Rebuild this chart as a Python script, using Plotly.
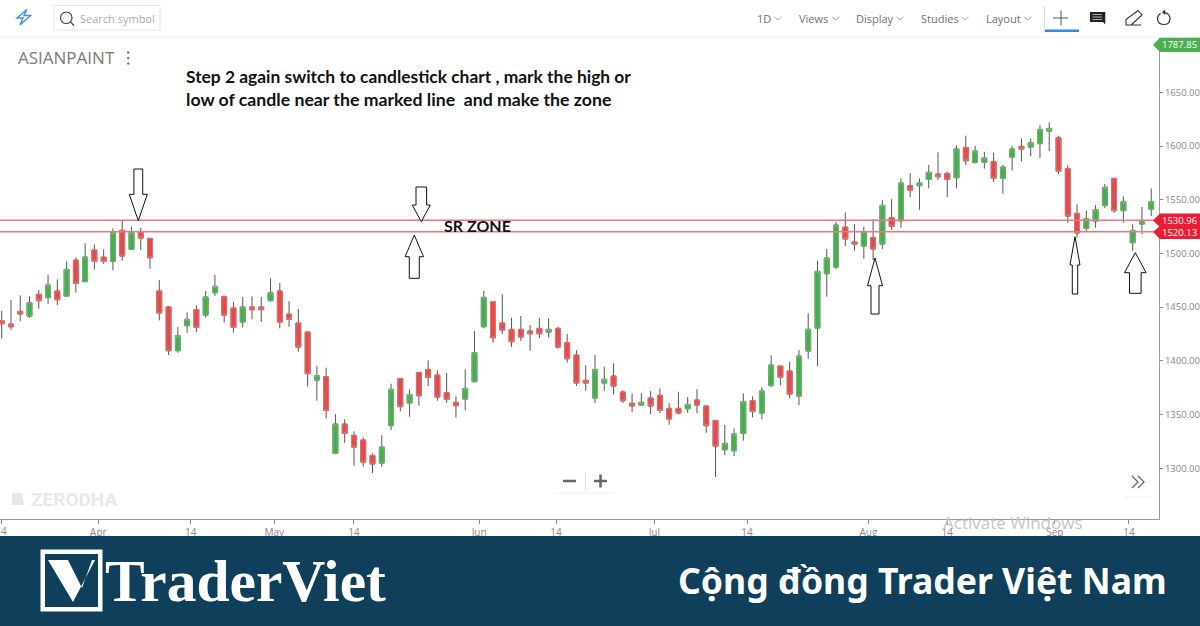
import plotly.graph_objects as go

symbol = "ASIANPAINT"
notes = ["Step 2 again switch to candlestick chart , mark the high or",
         "low of candle near the marked line  and make the zone"]
menu_items = ["1D", "Views", "Display", "Studies", "Layout"]
zone_levels = [1530.96, 1520.13]
last_price = "1787.85"

# daily candles
open_ = [1437.3, 1434.2, 1446.0, 1441.7, 1461.9, 1458.8, 1465.0, 1460.3, 1493.8, 1473.7,
         1503.1, 1496.6, 1492.6, 1521.5, 1503.8, 1519.9, 1514.0, 1465.0, 1450.1, 1409.4,
         1432.7, 1447.6, 1442.6, 1463.4, 1460.0, 1449.1, 1436.1, 1450.1, 1450.1, 1456.0,
         1465.0, 1443.5, 1435.2, 1426.8, 1382.1, 1385.2, 1313.8, 1341.1, 1330.6, 1326.2,
         1311.9, 1304.8, 1339.6, 1383.6, 1360.7, 1389.2, 1392.0, 1386.7, 1370.3, 1361.3,
         1364.4, 1380.5, 1431.7, 1455.0, 1435.2, 1429.3, 1429.3, 1427.7, 1430.2, 1426.8,
         1430.2, 1416.8, 1405.4, 1381.8, 1365.3, 1379.3, 1385.8, 1370.9, 1360.4, 1358.8,
         1365.3, 1367.8, 1355.7, 1355.7, 1355.4, 1363.5, 1357.9, 1344.5, 1317.2, 1316.3,
         1332.4, 1362.8, 1351.4, 1377.1, 1395.1, 1390.5, 1367.2, 1409.1, 1430.5, 1481.1,
         1487.3, 1524.5, 1510.6, 1506.9, 1514.9, 1508.7, 1533.2, 1530.4, 1563.0, 1563.0,
         1568.9, 1573.9, 1574.5, 1570.5, 1598.7, 1584.8, 1584.8, 1585.4, 1569.9, 1589.7,
         1599.7, 1599.0, 1602.2, 1613.9, 1607.7, 1578.9, 1537.3, 1523.3, 1530.1, 1544.7,
         1569.9, 1539.8, 1510.0, 1527.3, 1541.3]
high = [1446.6, 1456.6, 1460.9, 1460.0, 1465.9, 1479.9, 1475.8, 1492.6, 1496.3, 1509.3,
        1508.4, 1503.8, 1523.3, 1530.5, 1524.9, 1523.9, 1514.0, 1475.2, 1451.0, 1431.7,
        1445.1, 1451.6, 1465.0, 1479.9, 1460.3, 1455.0, 1459.4, 1460.0, 1459.4, 1476.8,
        1472.4, 1455.6, 1448.2, 1426.8, 1395.1, 1393.6, 1350.4, 1345.5, 1334.3, 1328.7,
        1313.8, 1330.6, 1378.7, 1383.6, 1373.4, 1389.2, 1400.4, 1391.1, 1388.6, 1366.9,
        1392.0, 1427.7, 1465.0, 1455.0, 1461.9, 1440.1, 1441.7, 1433.3, 1440.1, 1439.5,
        1431.7, 1424.9, 1410.0, 1396.0, 1405.4, 1394.5, 1397.6, 1372.5, 1369.7, 1369.7,
        1371.8, 1374.3, 1360.4, 1371.2, 1366.3, 1373.7, 1358.8, 1344.5, 1340.2, 1337.1,
        1369.7, 1366.9, 1375.3, 1405.0, 1395.1, 1399.2, 1410.0, 1444.2, 1493.2, 1504.1,
        1529.5, 1538.2, 1527.3, 1524.9, 1531.7, 1549.7, 1550.6, 1569.9, 1574.8, 1569.9,
        1582.3, 1594.1, 1576.1, 1600.6, 1609.6, 1600.0, 1594.7, 1593.8, 1582.3, 1600.0,
        1607.1, 1607.1, 1619.5, 1622.0, 1609.6, 1582.3, 1545.7, 1539.8, 1545.0, 1564.6,
        1569.9, 1553.1, 1527.3, 1543.2, 1560.6]
low = [1420.6, 1428.9, 1437.0, 1440.1, 1448.5, 1452.9, 1451.9, 1460.3, 1463.4, 1473.7,
       1485.1, 1490.1, 1484.2, 1493.2, 1503.1, 1503.1, 1485.8, 1437.6, 1405.4, 1407.5,
       1426.2, 1426.8, 1440.1, 1460.3, 1435.5, 1426.2, 1431.1, 1438.6, 1436.1, 1455.0,
       1430.2, 1431.7, 1408.5, 1376.2, 1362.8, 1346.4, 1313.8, 1323.7, 1302.3, 1301.4,
       1295.5, 1301.4, 1335.5, 1352.9, 1347.9, 1358.2, 1376.5, 1362.8, 1360.7, 1347.0,
       1353.8, 1380.5, 1430.2, 1416.8, 1424.9, 1412.8, 1418.4, 1409.4, 1421.2, 1421.8,
       1411.3, 1398.5, 1376.5, 1372.1, 1360.7, 1372.1, 1368.7, 1360.7, 1352.3, 1358.2,
       1350.4, 1351.4, 1340.5, 1350.1, 1351.4, 1351.4, 1333.0, 1291.8, 1312.2, 1311.3,
       1325.6, 1347.3, 1345.5, 1375.3, 1377.1, 1365.3, 1358.8, 1402.0, 1395.1, 1459.7,
       1485.7, 1506.9, 1502.5, 1495.1, 1493.8, 1504.1, 1521.8, 1523.9, 1552.5, 1540.7,
       1560.6, 1568.3, 1552.5, 1560.6, 1582.3, 1583.8, 1578.9, 1566.5, 1555.6, 1577.3,
       1585.7, 1590.7, 1588.8, 1595.3, 1573.9, 1528.6, 1514.9, 1519.9, 1523.9, 1542.2,
       1537.9, 1528.6, 1502.5, 1518.0, 1534.8]
close = [1434.5, 1431.7, 1443.5, 1454.1, 1456.0, 1470.5, 1456.9, 1485.1, 1472.1, 1496.6,
         1492.6, 1492.6, 1519.3, 1497.6, 1519.3, 1514.3, 1496.0, 1444.5, 1409.4, 1423.4,
         1438.6, 1431.1, 1459.4, 1469.3, 1442.6, 1431.1, 1450.1, 1447.6, 1447.6, 1463.4,
         1436.1, 1438.6, 1412.8, 1388.0, 1386.1, 1353.8, 1341.1, 1332.4, 1319.7, 1305.7,
         1303.9, 1319.7, 1373.4, 1357.3, 1368.7, 1367.5, 1384.6, 1366.2, 1364.1, 1358.2,
         1374.3, 1407.5, 1459.1, 1421.5, 1428.6, 1417.8, 1422.1, 1425.2, 1425.2, 1429.3,
         1412.8, 1401.9, 1379.3, 1379.3, 1392.0, 1382.7, 1376.5, 1362.8, 1357.9, 1361.3,
         1357.9, 1353.8, 1345.8, 1351.4, 1359.4, 1358.8, 1339.6, 1320.6, 1323.1, 1331.8,
         1361.9, 1352.9, 1371.9, 1396.0, 1384.6, 1369.0, 1404.4, 1429.3, 1483.3, 1495.7,
         1526.4, 1513.4, 1508.7, 1520.5, 1504.1, 1544.7, 1525.2, 1565.5, 1559.0, 1565.5,
         1575.5, 1571.4, 1568.9, 1597.2, 1586.3, 1595.3, 1588.8, 1569.9, 1580.4, 1597.2,
         1597.2, 1603.1, 1615.5, 1616.4, 1576.4, 1534.8, 1519.0, 1532.3, 1540.7, 1561.5,
         1539.8, 1548.1, 1521.4, 1530.4, 1548.1]

x_ticks = [0, 10.43, 20.4, 29.4, 38, 51.5, 59.8, 70.4, 80.4, 93.5, 102, 113.6, 121.6]
x_labels = ["", "Apr", "14", "May", "14", "Jun", "14", "Jul", "14", "Aug", "14", "Sep", "14"]
y_ticks = [1300, 1350, 1400, 1450, 1500, 1550, 1600, 1650]

GREEN = "#4aab50"
RED = "#e04b4b"
BANNER = "#0f3f5a"
W, H = 1200, 626
UI_FONT = "Open Sans"


# picture pixels to paper fractions, all the furniture is placed this way
def px(x):
    return x / W


def py(y):
    return 1 - y / H


def path(points, close_path=True):
    d = "M" + " L".join(f"{px(x):.5f},{py(y):.5f}" for x, y in points)
    return d + " Z" if close_path else d


shapes = []
annotations = []


def poly(points, fill="rgba(0,0,0,0)", line=None, width=1, close_path=True):
    shapes.append(dict(type="path", path=path(points, close_path), xref="paper", yref="paper",
                       fillcolor=fill, layer="above",
                       line=dict(color=line or "rgba(0,0,0,0)", width=width if line else 0)))


def box(x0, y0, x1, y1, fill="rgba(0,0,0,0)", line=None, width=1):
    shapes.append(dict(type="rect", x0=px(x0), x1=px(x1), y0=py(y0), y1=py(y1),
                       xref="paper", yref="paper", fillcolor=fill, layer="above",
                       line=dict(color=line or "rgba(0,0,0,0)", width=width if line else 0)))


def label(x, y, text, size=11, color="#777777", family=UI_FONT, anchor="left", bold=False):
    annotations.append(dict(x=px(x), y=py(y), xref="paper", yref="paper", text=f"<b>{text}</b>" if bold else text,
                            showarrow=False, xanchor=anchor, yanchor="middle", borderpad=0,
                            font=dict(size=size, color=color, family=family)))


def arrow_down(x, tip, head_y, head_w, shaft_w, top):
    poly([(x, tip), (x - head_w, head_y), (x - shaft_w, head_y), (x - shaft_w, top),
          (x + shaft_w, top), (x + shaft_w, head_y), (x + head_w, head_y)],
         fill="white", line="#111111", width=1)


fig = go.Figure()
idx = list(range(len(close)))

# wicks are dark in the original, so they get their own trace under the bodies
fig.add_trace(go.Candlestick(x=idx, open=open_, high=high, low=low, close=close, showlegend=False,
                             whiskerwidth=0,
                             increasing=dict(line=dict(color="#555555", width=1), fillcolor=GREEN),
                             decreasing=dict(line=dict(color="#555555", width=1), fillcolor=RED)))
fig.add_trace(go.Candlestick(x=idx, open=open_,
                             high=[max(a, b) for a, b in zip(open_, close)],
                             low=[min(a, b) for a, b in zip(open_, close)],
                             close=close, showlegend=False, whiskerwidth=0,
                             increasing=dict(line=dict(color="#6dbb71", width=1), fillcolor=GREEN),
                             decreasing=dict(line=dict(color="#e87070", width=1), fillcolor=RED)))

# SR zone
for level in zone_levels:
    shapes.append(dict(type="line", xref="paper", yref="y", x0=0, x1=px(1156), y0=level, y1=level,
                       layer="above", line=dict(color="#f4717f", width=1.4)))

# hand drawn arrows
arrow_down(138.3, 220.7, 194.3, 9, 4.4, 169)
arrow_down(421.3, 221.7, 205, 9, 5.3, 187)
arrow_down(414.3, 235, 256.7, 9.2, 5, 278.3)
arrow_down(875, 258, 285.7, 7.5, 4, 314)
arrow_down(1075, 236.7, 265, 5, 2.7, 294)
arrow_down(1135.3, 252.7, 272.7, 10.8, 5.8, 293.3)

# price badges
poly([(1153, 45), (1160, 37.5), (1200, 37.5), (1200, 52), (1160, 52)], fill="#4caf50")
label(1197.5, 45, last_price, size=9.5, color="white", anchor="right")
for tip, top, bottom in [(220.5, 213.5, 227), (232, 226, 239)]:
    poly([(1153, tip), (1160, top), (1200, top), (1200, bottom), (1160, bottom)], fill="#ec1c33")
label(1197.5, 220.5, f"{zone_levels[0]:.2f}", size=9.5, color="white", anchor="right")
label(1197.5, 232.5, f"{zone_levels[1]:.2f}", size=9.5, color="white", anchor="right")

# toolbar
box(0, 0, 1200, 37, fill="white")
shapes.append(dict(type="line", xref="paper", yref="paper", x0=0, x1=1, y0=py(37), y1=py(37), layer="above",
                   line=dict(color="#eeeeee", width=1)))
poly([(27, 9.5), (17, 18), (23, 18), (20, 25), (30.5, 15.5), (24, 15.5)], line="#4a90e2", width=1.5)
box(54, 5.5, 160, 30, fill="white", line="#e3e3e3")
shapes.append(dict(type="circle", xref="paper", yref="paper", x0=px(60.5), x1=px(72), y0=py(12), y1=py(23.5),
                   layer="above", line=dict(color="#444444", width=1.2)))
poly([(70.5, 22), (74, 25.5)], line="#444444", width=1.2, close_path=False)
label(79, 18.5, "Search symbol", size=11, color="#aaaaaa")

for text, left, chevron in zip(menu_items, [755.7, 798, 855, 919.7, 985], [778, 835.7, 900, 965, 1027.7]):
    label(left, 18.5, text, size=11, color="#707070")
    poly([(chevron - 3.5, 17), (chevron, 20), (chevron + 3.5, 17)], line="#aaaaaa", width=1, close_path=False)

poly([(1044.5, 6), (1044.5, 33)], line="#dddddd", close_path=False)
poly([(1053, 18), (1068, 18)], line="#555555", close_path=False)
poly([(1061, 10.5), (1061, 25.5)], line="#555555", close_path=False)
box(1045, 29.5, 1079, 32, fill="#2b8cf0")
poly([(1090, 12), (1105.3, 12), (1105.3, 24.5), (1103, 22), (1090, 22)], fill="#222222")
for ly in [14.5, 17, 19.5]:
    poly([(1092.5, ly), (1102, ly)], line="#aaaaaa", close_path=False)
poly([(1126, 25), (1126, 19.5), (1138, 10.5), (1142, 15), (1131, 25), (1141, 25)], line="#333333", width=1.1)
shapes.append(dict(type="path", xref="paper", yref="paper", layer="above",
                   path=(f"M{px(1160.5)},{py(13.5)} C{px(1155.5)},{py(17)} {px(1157)},{py(24.5)} {px(1164)},{py(24.5)} "
                         f"C{px(1171.5)},{py(24.5)} {px(1172)},{py(14.5)} {px(1165)},{py(12.5)}"),
                   line=dict(color="#333333", width=1.2)))
poly([(1165, 9.5), (1162, 12.5), (1165.5, 15)], fill="#333333")

# chart header and notes
label(17, 57.5, symbol, size=17, color="#7a7a7a")
for dy in [52.5, 58, 63.5]:
    shapes.append(dict(type="circle", xref="paper", yref="paper", x0=px(127), x1=px(129.4), y0=py(dy - 1.2),
                       y1=py(dy + 1.2), fillcolor="#777777", layer="above", line=dict(width=0)))
label(184.5, 76, notes[0], size=17.4, color="#111111", family="Lato", bold=True)
label(184.5, 99, notes[1], size=17.7, color="#111111", family="Lato", bold=True)
label(442.5, 225.5, "SR ZONE", size=16, color="#111111", family="Lato", bold=True)

# chart furniture
poly([(12, 493), (22, 493), (24, 505), (12, 505)], fill="#e8e8e8")
label(30, 499.5, "ZERODHA", size=19, color="#e8e8e8", family="Roboto", bold=True)
poly([(563, 481), (576, 481)], line="#666666", width=2.5, close_path=False)
poly([(585.5, 473), (585.5, 490)], line="#dddddd", close_path=False)
poly([(594, 481), (607, 481)], line="#666666", width=2.5, close_path=False)
poly([(600.5, 474.5), (600.5, 487.5)], line="#666666", width=2.5, close_path=False)
poly([(556, 493), (615, 493)], line="#eeeeee", close_path=False)
poly([(1132, 476), (1138, 482), (1132, 488)], line="#666666", width=1.3, close_path=False)
poly([(1138, 476), (1144, 482), (1138, 488)], line="#666666", width=1.3, close_path=False)
poly([(1125, 497), (1150, 497)], line="#eeeeee", close_path=False)

# the first tick label is half off the page in the original, plotly would drop it
label(0, 531, "4", size=10, color="#888888")

# site banner
box(0, 536, 1200, 626, fill=BANNER)
box(40.5, 549.5, 102.5, 611.5, fill="white")
box(45, 554, 98, 607, fill=BANNER)
poly([(48, 560), (68, 560), (82, 588), (92, 560), (95, 560), (73, 602)], fill="white")
label(104, 581, "TraderViet", size=59.5, color="white", family="Liberation Serif", bold=True)
label(1167.5, 580, "Cộng đồng Trader Việt Nam", size=35.6, color="white", family="Noto Sans", anchor="right", bold=True)

# windows watermark sits over the axis
label(942, 522, "Activate Windows", size=17, color="#c4c4c4")

fig.update_layout(
    width=W, height=H, autosize=False,
    margin=dict(l=0, r=0, t=0, b=0),
    paper_bgcolor="white", plot_bgcolor="white",
    boxgap=0.25,
    showlegend=False,
    shapes=shapes,
    annotations=annotations,
    font=dict(family=UI_FONT),
)
fig.update_xaxes(domain=[0, 1159 / W], range=[-0.183, 124.84], showgrid=False, zeroline=False, automargin=False,
                 rangeslider_visible=False, tickmode="array", tickvals=x_ticks, ticktext=x_labels,
                 ticks="outside", ticklen=4, tickcolor="#888888", showline=True, linecolor="#999999",
                 tickfont=dict(size=10, color="#888888", family=UI_FONT))
fig.update_yaxes(domain=[1 - 519 / H, 1 - 38 / H], range=[1252.7, 1700.6], side="right", showgrid=False,
                 zeroline=False, automargin=False, tickmode="array", tickvals=y_ticks, tickformat=".2f",
                 ticks="outside", ticklen=3, tickcolor="#888888", showline=True, linecolor="#999999",
                 tickfont=dict(size=9.5, color="#888888", family=UI_FONT))

fig.write_html("out.html", config=dict(displayModeBar=False), post_script="document.body.style.margin='0';")
